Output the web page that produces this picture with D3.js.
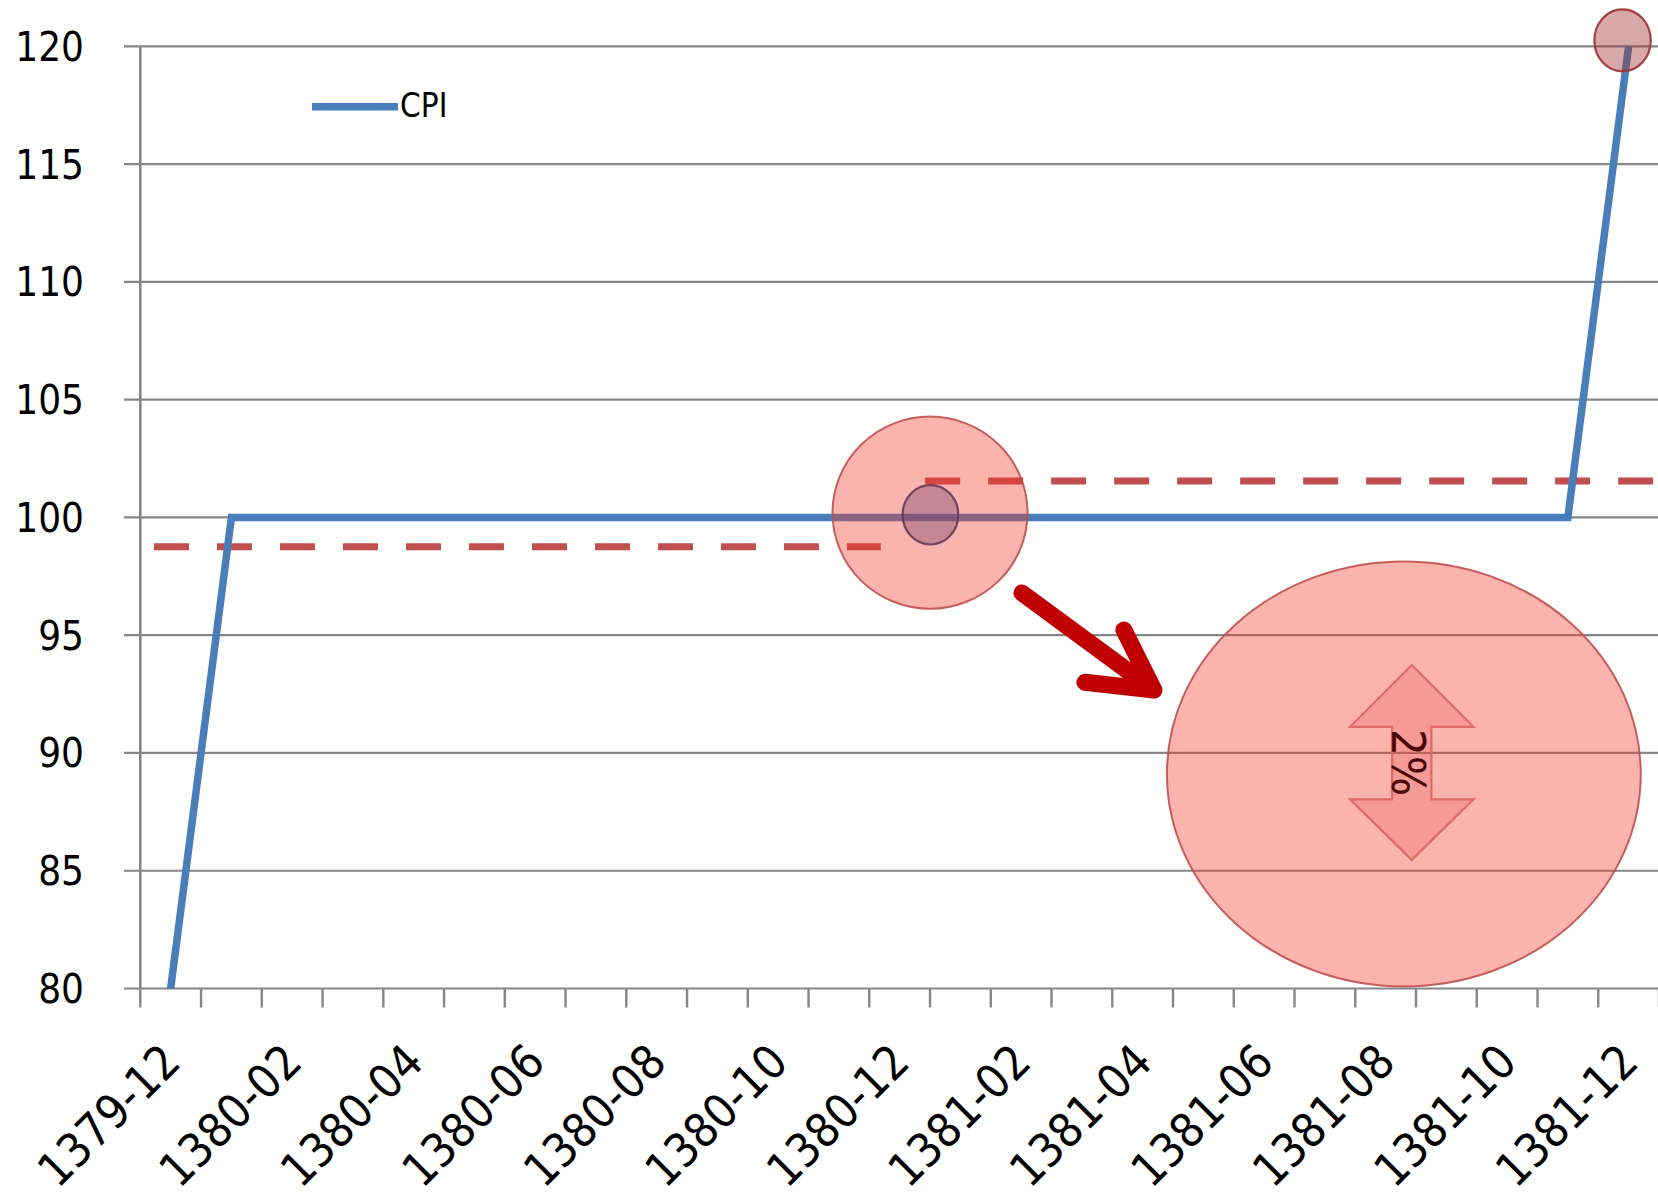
<!DOCTYPE html>
<html>
<head>
<meta charset="utf-8">
<script src="https://cdn.jsdelivr.net/npm/d3@7"></script>
<style>
  html, body { margin: 0; padding: 0; background: #ffffff; }
  svg { display: block; }
</style>
</head>
<body>
<svg id="chart" width="1658" height="1197"></svg>
<script>
// ---------------- data ----------------
const categories = [
  "1379-12",
  "1380-01","1380-02","1380-03","1380-04","1380-05","1380-06",
  "1380-07","1380-08","1380-09","1380-10","1380-11","1380-12",
  "1381-01","1381-02","1381-03","1381-04","1381-05","1381-06",
  "1381-07","1381-08","1381-09","1381-10","1381-11","1381-12"
];
const cpiValues = [
  80,
  100,100,100,100,100,100,
  100,100,100,100,100,100,
  100,100,100,100,100,100,
  100,100,100,100,100,
  120
];
const yTickValues = [80, 85, 90, 95, 100, 105, 110, 115, 120];
const xTickLabels = ["1379-12","1380-02","1380-04","1380-06","1380-08","1380-10","1380-12",
                     "1381-02","1381-04","1381-06","1381-08","1381-10","1381-12"];
const seriesName = "CPI";

// dashed reference levels (value, start/end in category units)
const bandValues = [98.75, 101.55];
const bandStarts = [0.225, 12.92];
const bandEnds   = [12.19, 25];

// annotation shapes, in data units (category index, value)
const highlightCircles = [
  {name: "zone",  i: 13.0,  v: 100.2,  ri: 1.605, rv: 4.08},
  {name: "point", i: 13.007, v: 100.11, ri: 0.458, rv: 1.26},
  {name: "peak",  i: 24.40, v: 120.25, ri: 0.464, rv: 1.316}
];
const zoomEllipse = {i: 20.80, v: 89.11, ri: 3.90, rv: 9.02};
const pointerArrow = {start: [14.513, 96.79], tip: [16.686, 92.67], barbA: [16.192, 95.22], barbB: [15.55, 93.0]};
const doubleArrow = {i: 20.93, topTip: 93.73, topBase: 91.11, bottomBase: 88.03, bottomTip: 85.46, headHalf: 1.016, shaftHalf: 0.323};
const bandLabel = {text: "2%", i: 20.88, v: 89.59};

// ---------------- layout ----------------
const svg = d3.select("#chart");
const axisColor = "#868686";
const x = d3.scaleLinear().domain([0, categories.length]).range([140.3, 1659]);
const y = d3.scaleLinear().domain([80, 120]).range([988.5, 46.3]);
const cx = i => x(i + 0.5);
const fontFam = "'DejaVu Sans Condensed', 'DejaVu Sans', sans-serif";

// gridlines (with outward y ticks)
svg.append("g").selectAll("line").data(yTickValues).join("line")
  .attr("x1", 124).attr("x2", x(categories.length))
  .attr("y1", d => y(d)).attr("y2", d => y(d))
  .attr("stroke", axisColor).attr("stroke-width", 2.2);

// y axis line
svg.append("line")
  .attr("x1", x(0)).attr("x2", x(0))
  .attr("y1", y(120)).attr("y2", y(80))
  .attr("stroke", axisColor).attr("stroke-width", 2.6);

// x ticks at category boundaries
svg.append("g").selectAll("line").data(d3.range(categories.length + 1)).join("line")
  .attr("x1", d => x(d)).attr("x2", d => x(d))
  .attr("y1", y(80)).attr("y2", y(80) + 19)
  .attr("stroke", axisColor).attr("stroke-width", 2.4);

// y labels
svg.append("g").selectAll("text").data(yTickValues).join("text")
  .attr("x", 84).attr("y", d => y(d) + 14.5)
  .attr("text-anchor", "end")
  .attr("font-family", fontFam).attr("font-stretch", "condensed")
  .attr("font-size", 40).attr("fill", "#000")
  .text(d => d);

// x labels
svg.append("g").selectAll("text").data(xTickLabels).join("text")
  .attr("transform", d => `translate(${cx(categories.indexOf(d)) + 12},${y(80) + 76}) rotate(-45)`)
  .attr("text-anchor", "end")
  .attr("font-family", fontFam).attr("font-stretch", "condensed")
  .attr("font-size", 47).attr("fill", "#000")
  .text(d => d);

// dashed reference lines
svg.append("g").selectAll("line").data(bandValues).join("line")
  .attr("x1", (d, k) => x(bandStarts[k])).attr("x2", (d, k) => x(bandEnds[k]))
  .attr("y1", d => y(d)).attr("y2", d => y(d))
  .attr("stroke", "#C0504D").attr("stroke-width", 7)
  .attr("stroke-dasharray", "35 28");

// CPI line
const line = d3.line().x((d, i) => cx(i)).y(d => y(d));
svg.append("path").datum(cpiValues)
  .attr("d", line)
  .attr("fill", "none").attr("stroke", "#4A7EBB").attr("stroke-width", 7.5)
  .attr("stroke-linejoin", "miter");

// legend
svg.append("line").attr("x1", 312).attr("x2", 398).attr("y1", 106.7).attr("y2", 106.7)
  .attr("stroke", "#4A7EBB").attr("stroke-width", 7.5);
svg.append("text").attr("x", 400).attr("y", 117)
  .attr("font-family", fontFam).attr("font-stretch", "condensed")
  .attr("font-size", 33).attr("fill", "#000").text(seriesName);

// highlight circles
const circleStyle = {
  zone:  {fill: "rgba(245,55,42,0.38)", stroke: "rgba(192,80,77,0.9)", sw: 2},
  point: {fill: "rgba(120,70,110,0.40)", stroke: "rgba(100,55,90,0.9)", sw: 2.2},
  peak:  {fill: "rgba(160,50,50,0.42)", stroke: "rgba(160,55,55,0.95)", sw: 2.2}
};
svg.append("g").selectAll("ellipse").data(highlightCircles).join("ellipse")
  .attr("cx", d => x(d.i)).attr("cy", d => y(d.v))
  .attr("rx", d => x(d.i + d.ri) - x(d.i))
  .attr("ry", d => y(d.v - d.rv) - y(d.v))
  .attr("fill", d => circleStyle[d.name].fill)
  .attr("stroke", d => circleStyle[d.name].stroke)
  .attr("stroke-width", d => circleStyle[d.name].sw);

// pointer arrow
const P = p => [x(p[0]), y(p[1])];
const pa = pointerArrow;
svg.append("path")
  .attr("d", d3.line()([P(pa.start), P(pa.tip)]) + d3.line()([P(pa.barbA), P(pa.tip), P(pa.barbB)]))
  .attr("fill", "none").attr("stroke", "#C00000").attr("stroke-width", 17)
  .attr("stroke-linecap", "round").attr("stroke-linejoin", "round");

// zoom ellipse
svg.append("ellipse")
  .attr("cx", x(zoomEllipse.i)).attr("cy", y(zoomEllipse.v))
  .attr("rx", x(zoomEllipse.i + zoomEllipse.ri) - x(zoomEllipse.i))
  .attr("ry", y(zoomEllipse.v - zoomEllipse.rv) - y(zoomEllipse.v))
  .attr("fill", "rgba(245,55,42,0.38)")
  .attr("stroke", "rgba(192,80,77,0.9)").attr("stroke-width", 2);

// up-down arrow
const da = doubleArrow;
const dPts = [
  [da.i, da.topTip],
  [da.i + da.headHalf, da.topBase],
  [da.i + da.shaftHalf, da.topBase],
  [da.i + da.shaftHalf, da.bottomBase],
  [da.i + da.headHalf, da.bottomBase],
  [da.i, da.bottomTip],
  [da.i - da.headHalf, da.bottomBase],
  [da.i - da.shaftHalf, da.bottomBase],
  [da.i - da.shaftHalf, da.topBase],
  [da.i - da.headHalf, da.topBase]
].map(P);
svg.append("path")
  .attr("d", d3.line()(dPts) + "Z")
  .attr("fill", "rgba(230,80,80,0.25)")
  .attr("stroke", "#E06A66").attr("stroke-width", 2.2);

// 2% label (rotated)
svg.append("text")
  .attr("transform", `translate(${x(bandLabel.i)},${y(bandLabel.v)}) rotate(90)`)
  .attr("text-anchor", "middle").attr("dominant-baseline", "central")
  .attr("font-family", fontFam).attr("font-stretch", "condensed")
  .attr("font-size", 47).attr("fill", "#4a0505")
  .text(bandLabel.text);
</script>
</body>
</html>
